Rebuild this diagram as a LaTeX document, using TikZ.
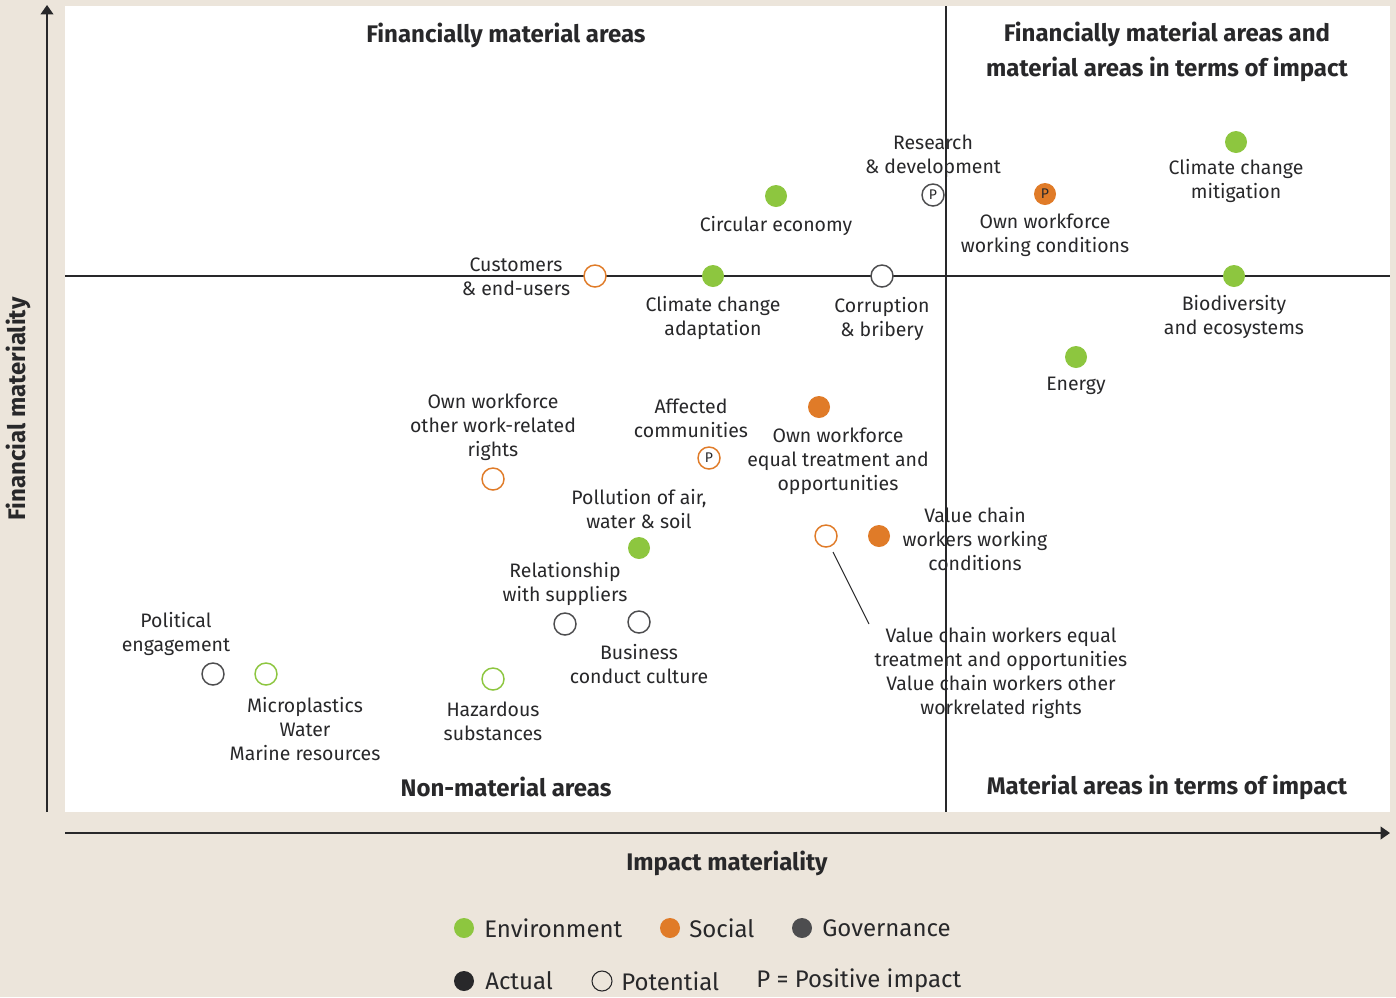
\documentclass[tikz,border=0pt]{standalone}
\usepackage{fontspec}
\setmainfont{Fira Sans}
\usetikzlibrary{arrows.meta,positioning}

\definecolor{woodbg}{RGB}{236,229,219}
\definecolor{envgreen}{RGB}{141,198,63}
\definecolor{socorange}{RGB}{224,123,40}
\definecolor{govgrey}{RGB}{77,77,79}
\definecolor{inkgrey}{RGB}{40,40,42}

\begin{document}
\begin{tikzpicture}[x=0.75pt,y=-0.75pt,
        Dot/.style={circle,minimum size=16.5pt,inner sep=0pt,line width=1.1pt,
            font=\fontsize{10.5}{10.5}\selectfont,text=inkgrey},
        EnvAct/.style={Dot,fill=envgreen},
        EnvPot/.style={Dot,draw=envgreen,fill=white},
        SocAct/.style={Dot,fill=socorange},
        SocPot/.style={Dot,draw=socorange,fill=white},
        GovPot/.style={Dot,draw=govgrey,fill=white},
        Lbl/.style={align=center,inner sep=0pt,text=inkgrey,
            font=\fontsize{14.6}{18}\selectfont},
        Head/.style={align=center,inner sep=0pt,text=inkgrey,
            font=\fontsize{18}{26}\selectfont\bfseries},
        Key/.style={anchor=west,inner sep=0pt,text=inkgrey,
            font=\fontsize{18}{20}\selectfont},
        AxisLine/.style={draw=inkgrey,line width=1.2pt,-{Triangle[length=7pt,width=9.5pt]}},
        QuadLine/.style={draw=inkgrey,line width=0.9pt}
    ]

    % background and plot area
    \fill[woodbg] (0,0) rectangle (1396,997);
    \fill[white] (65,6) rectangle (1390,812);

    % quadrant lines
    \coordinate (QT) at (946,6);
    \coordinate (QB) at (946,812);
    \coordinate (QL) at (65,276);
    \coordinate (QR) at (1390,276);
    \draw[QuadLine] (QT)--(QB);
    \draw[QuadLine] (QL)--(QR);

    % axes
    \coordinate (YA) at (47,812);
    \coordinate (YB) at (47,5);
    \coordinate (XA) at (65,833);
    \coordinate (XB) at (1390,833);
    \draw[AxisLine] (YA)--(YB);
    \draw[AxisLine] (XA)--(XB);
    \node[Head,rotate=90] (yTitle) at (18,409) {Financial materiality};
    \node[Head] (xTitle) at (727,863) {Impact materiality};

    % quadrant headings
    \node[Head] (hTL) at (506,35) {Financially material areas};
    \node[Head] (hTR) at (1167,52) {Financially material areas and\\material areas in terms of impact};
    \node[Head] (hBL) at (506,787) {Non-material areas};
    \node[Head] (hBR) at (1167,787) {Material areas in terms of impact};

    % upper right quadrant
    \node[EnvAct] (ccMit) at (1236,142) {};
    \node[Lbl] (ccMitL) at (1236,181) {Climate change\\mitigation};
    \node[SocAct] (owWork) at (1045,194) {P};
    \node[Lbl] (owWorkL) at (1045,235) {Own workforce\\working conditions};
    \node[EnvAct] (bio) at (1234,276) {};
    \node[Lbl] (bioL) at (1234,317) {Biodiversity\\and ecosystems};
    \node[EnvAct] (energy) at (1076,357) {};
    \node[Lbl] (energyL) at (1076,386) {Energy};

    % upper left quadrant
    \node[GovPot] (rnd) at (933,195) {P};
    \node[Lbl] (rndL) at (933,156) {Research\\\& development};
    \node[EnvAct] (circ) at (776,196) {};
    \node[Lbl] (circL) at (776,226) {Circular economy};
    \node[SocPot] (cust) at (595,276) {};
    \node[Lbl] (custL) at (516,277) {Customers\\\& end-users};
    \node[EnvAct] (ccAd) at (713,276) {};
    \node[Lbl] (ccAdL) at (713,318) {Climate change\\adaptation};
    \node[GovPot] (corr) at (882,276) {};
    \node[Lbl] (corrL) at (882,319) {Corruption\\\& bribery};

    % lower left quadrant
    \node[SocPot] (owRights) at (493,479) {};
    \node[Lbl] (owRightsL) at (493,427) {Own workforce\\other work-related\\rights};
    \node[SocPot] (affComm) at (709,458) {P};
    \node[Lbl] (affCommL) at (691,418) {Affected\\communities};
    \node[SocAct] (owEqual) at (819,407) {};
    \node[Lbl] (owEqualL) at (838,461) {Own workforce\\equal treatment and\\opportunities};
    \node[EnvAct] (poll) at (639,548) {};
    \node[Lbl] (pollL) at (639,509) {Pollution of air,\\water \& soil};
    \node[SocPot] (vcPot) at (826,536) {};
    \node[SocAct] (vcWork) at (879,536) {};
    \node[Lbl] (vcWorkL) at (975,539) {Value chain\\workers working\\conditions};
    \node[Lbl] (vcPotL) at (1001,673) {Value chain workers equal\\treatment and opportunities\\Value chain workers other\\workrelated rights};
    \coordinate (vcLeadA) at (833,552);
    \coordinate (vcLeadB) at (869,624);
    \draw[draw=inkgrey,line width=0.7pt] (vcLeadA)--(vcLeadB);
    \node[GovPot] (suppl) at (565,624) {};
    \node[Lbl] (supplL) at (565,584) {Relationship\\with suppliers};
    \node[GovPot] (busCult) at (639,622) {};
    \node[Lbl] (busCultL) at (639,664) {Business\\conduct culture};
    \node[GovPot] (polit) at (213,674) {};
    \node[Lbl] (politL) at (176,634) {Political\\engagement};
    \node[EnvPot] (micro) at (266,674) {};
    \node[Lbl] (microL) at (305,729) {Microplastics\\Water\\Marine resources};
    \node[EnvPot] (haz) at (493,679) {};
    \node[Lbl] (hazL) at (493,721) {Hazardous\\substances};

    % legend
    \node[Dot,fill=envgreen,minimum size=15pt] (kEnv) at (464,928) {};
    \node[Key] (kEnvL) at (484,928) {Environment};
    \node[Dot,fill=socorange,minimum size=15pt] (kSoc) at (670,928) {};
    \node[Key] (kSocL) at (689,928) {Social};
    \node[Dot,fill=govgrey,minimum size=15pt] (kGov) at (802,928) {};
    \node[Key] (kGovL) at (822,928) {Governance};
    \node[Dot,fill=inkgrey,minimum size=15pt] (kAct) at (464,981) {};
    \node[Key] (kActL) at (485,981) {Actual};
    \node[Dot,draw=inkgrey,line width=0.8pt,minimum size=15pt] (kPot) at (602,981) {};
    \node[Key] (kPotL) at (621,981) {Potential};
    \node[Key] (kPos) at (756,981) {P = Positive impact};

\end{tikzpicture}
\end{document}
